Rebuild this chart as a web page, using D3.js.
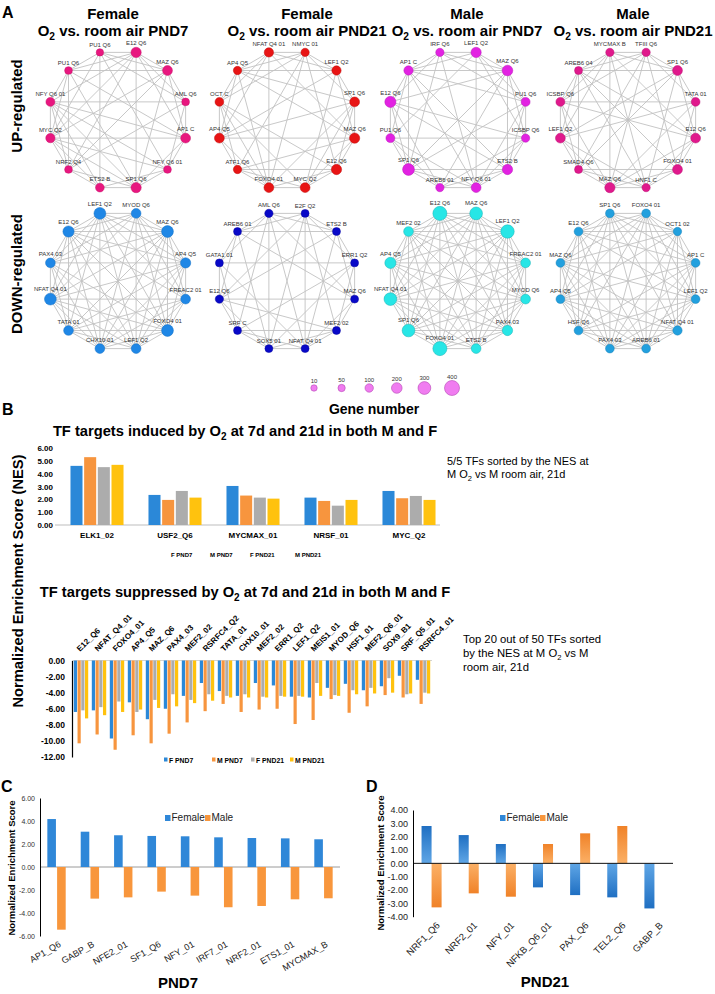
<!DOCTYPE html>
<html><head><meta charset="utf-8">
<script src="https://cdn.jsdelivr.net/npm/d3@7/dist/d3.min.js"></script>
<style>
html,body{margin:0;padding:0;background:#fff;}
svg{display:block;}
</style></head>
<body>
<svg id="fig" width="715" height="994"></svg>
<script>
// ================= DATA =================
// ---- Panel A : networks ----
const colSex = ["Female","Female","Male","Male"];
const colDay = ["PND7","PND21","PND7","PND21"];
const rowNames = ["UP-regulated","DOWN-regulated"];

const upF7Labels = ["PU1 Q6","E12 Q6","MAZ Q6","AML Q6","AP1 C","NFY Q6 01","SP1 Q6","ETS2 B","NRF2 Q4","MYC Q2","NFY Q6 01","PU1 Q6"];
const upF7Genes = [55,185,165,70,165,70,185,115,70,140,125,70];
const upF7Missing = ["0-4","0-6","0-8","0-10","1-5","1-7","2-5","2-7","2-10","3-6","3-7","3-9","3-11","4-7","4-8","5-8","5-11","7-11"];

const upF21Labels = ["NFAT Q4 01","NMYC 01","LEF1 Q2","SP1 Q6","MAZ Q6","E12 Q6","MYC Q2","FOXO4 01","ATF1 Q6","AP4 Q5","OCT C","AP4 Q5"];
const upF21Genes = [140,95,140,165,185,185,165,165,95,165,115,95];
const upF21Missing = ["0-3","0-5","0-6","0-8","1-4","1-6","1-9","2-5","2-7","2-8","2-10","3-8","3-10","4-7","4-10","5-9","5-11","6-9","6-11","8-11"];

const upM7Labels = ["IRF Q6","LEF1 Q2","MAZ Q6","PU1 Q6","ICSBP Q6","ETS2 B","NFY Q6 01","AREB6 01","SP1 Q6","PU1 Q6","E12 Q6","AP1 C"];
const upM7Genes = [95,185,200,125,95,185,165,95,255,125,225,140];
const upM7Missing = ["0-4","0-5","0-7","0-9","1-5","1-7","1-8","1-10","2-6","2-9","3-7","3-9","3-10","4-8","4-11","5-9","6-10","7-11"];

const upM21Labels = ["MYCMAX B","TFIII Q6","SP1 Q6","TATA 01","E12 Q6","FOXO4 01","HNF1 C","MAZ Q6","SMAD4 Q6","LEF1 Q2","ICSBP Q6","AREB6 04"];
const upM21Genes = [95,95,165,115,165,165,95,185,80,165,125,80];
const upM21Missing = ["0-3","0-5","0-8","1-4","1-6","1-9","2-5","2-7","2-10","3-6","3-8","3-11","4-8","4-9","5-9","5-10","6-10","7-11"];

const dnF7Labels = ["LEF1 Q2","MYOD Q6","MAZ Q6","AP4 Q5","FREAC2 01","FOXO4 01","LEF1 Q2","CHX10 01","TATA 01","NFAT Q4 01","PAX4 03","E12 Q6"];
const dnF7Genes = [255,160,255,185,160,255,160,160,160,255,160,225];
const dnF7Missing = ["1-8","4-10"];

const dnF21Labels = ["AML Q6","E2F Q2","ETS2 B","ERR1 Q2","MAZ Q6","MEF2 02","NFAT Q4 01","SOX5 01","SRF C","E12 Q6","GATA1 01","AREB6 01"];
const dnF21Genes = [95,80,80,80,80,80,80,80,80,95,80,80];
const dnF21Missing = ["0-3","0-5","0-9","1-4","1-8","1-10","2-5","2-7","2-8","2-10","3-6","3-9","3-11","4-7","4-8","4-10","5-10","5-11","6-9","6-11","7-10","8-11"];

const dnM7Labels = ["E12 Q6","MAZ Q6","LEF1 Q2","FREAC2 01","MYOD Q6","PAX4 03","ETS2 B","FOXO4 01","SP1 Q6","NFAT Q4 01","AP4 Q5","MEF2 02"];
const dnM7Genes = [357,296,330,160,160,185,160,357,296,296,225,160];
const dnM7Missing = [];

const dnM21Labels = ["SP1 Q6","FOXO4 01","OCT1 02","AP1 C","LEF1 Q2","NFAT Q4 01","AREB6 01","PAX4 03","HSF Q6","AP4 Q5","MAZ Q6","E12 Q6"];
const dnM21Genes = [115,115,95,115,115,140,115,115,115,115,115,115];
const dnM21Missing = ["2-8","5-11"];

const geneLegend = [10,50,100,200,300,400];

// ---- Panel B ----
const seriesNames = ["F PND7","M PND7","F PND21","M PND21"];
const indCategories = ["ELK1_02","USF2_Q6","MYCMAX_01","NRSF_01","MYC_Q2"];
const indFPND7  = [4.62,2.35,3.05,2.14,2.66];
const indMPND7  = [5.30,1.96,2.30,1.88,2.09];
const indFPND21 = [4.52,2.66,2.14,1.51,2.27];
const indMPND21 = [4.70,2.14,2.06,1.96,1.96];
const indTicks = [0,1,2,3,4,5,6];

const supCategories = ["E12_Q6","NFAT_Q4_01","FOXO4_01","AP4_Q5","MAZ_Q6","PAX4_03","MEF2_02","RSRFC4_Q2","TATA_01","CHX10_01","MEF2_02","ERR1_Q2","LEF1_Q2","MEIS1_01","MYOD_Q6","HSF1_01","MEF2_Q6_01","SOX9_B1","SRF_Q5_01","RSRFC4_01"];
const supFPND7  = [-6.4,-6.2,-9.7,-5.2,-7.3,-6.0,-4.4,-2.8,-3.8,-4.4,-2.8,-3.1,-4.5,-4.6,-3.4,-2.9,-3.7,-3.2,-1.9,-2.4];
const supMPND7  = [-10.3,-9.2,-11.1,-9.3,-10.3,-9.1,-7.7,-6.3,-5.4,-6.4,-6.1,-6.0,-7.9,-7.4,-4.8,-6.5,-5.7,-4.3,-4.6,-5.4];
const supFPND21 = [-6.2,-5.8,-5.1,-6.4,-4.9,-4.2,-4.9,-4.2,-4.4,-4.2,-4.5,-4.4,-4.4,-2.8,-4.3,-3.7,-3.4,-2.2,-4.2,-4.0];
const supMPND21 = [-7.2,-6.8,-6.4,-6.1,-5.9,-5.7,-5.3,-5.0,-4.6,-4.6,-4.6,-4.5,-4.5,-4.4,-4.4,-4.2,-4.1,-4.0,-4.1,-4.1];
const supTicks = [0,-2,-4,-6,-8,-10,-12];

// ---- Panel C ----
const sexNames = ["Female","Male"];
const cCategories = ["AP1_Q6","GABP_B","NFE2_01","SF1_Q6","NFY_01","IRF7_01","NRF2_01","ETS1_01","MYCMAX_B"];
const cFemale = [4.17,3.07,2.76,2.70,2.67,2.58,2.52,2.49,2.41];
const cMale   = [-5.45,-2.75,-2.64,-2.14,-2.49,-3.50,-3.39,-2.81,-2.72];
const cTicks = [6,4,2,0,-2,-4,-6];

// ---- Panel D ----
const dCategories = ["NRF1_Q6","NRF2_01","NFY_01","NFKB_Q6_01","PAX_Q6","TEL2_Q6","GABP_B"];
const dFemale = [2.80,2.12,1.45,-1.80,-2.38,-2.55,-3.38];
const dMale   = [-3.30,-2.25,-2.50,1.45,2.25,2.80,0];
const dTicks = [4,3,2,1,0,-1,-2,-3,-4];

// ================= DRAWING =================
const FONT = "'Liberation Sans', Arial, Helvetica, sans-serif";
const svg = d3.select("#fig").attr("font-family", FONT);
svg.append("rect").attr("width",715).attr("height",994).attr("fill","#fff");

function o2Text(parent, x, y, pre, post, fs, weight, anchor) {
  const t = parent.append("text").attr("x",x).attr("y",y).attr("font-size",fs)
    .attr("font-weight",weight).attr("text-anchor",anchor||"start").attr("fill","#000");
  t.append("tspan").text(pre + "O");
  t.append("tspan").attr("dy",fs*0.28).attr("font-size",fs*0.68).text("2");
  t.append("tspan").attr("dy",-fs*0.28).text(post);
  return t;
}
function label(parent, x, y, txt, fs, weight, anchor, fill) {
  return parent.append("text").attr("x",x).attr("y",y).attr("font-size",fs)
    .attr("font-weight",weight||"normal").attr("text-anchor",anchor||"start")
    .attr("fill",fill||"#000").text(txt);
}

// ---------- Panel A ----------
const gA = svg.append("g");
label(gA, 2, 18, "A", 16, "bold");
const titleX = [113, 307, 467, 633];
colSex.forEach((s,i)=>{
  label(gA, titleX[i], 18.5, s, 15, "bold", "middle");
  o2Text(gA, titleX[i], 35.5, "", " vs. room air " + colDay[i], 15, "bold", "middle");
});
const rowLabelY = [106, 274];
rowNames.forEach((r,i)=>{
  gA.append("text").attr("transform",`translate(21.5,${rowLabelY[i]}) rotate(-90)`)
    .attr("text-anchor","middle").attr("font-size",15).attr("font-weight","bold").text(r);
});

const networks = [
  {col:0,row:0,labels:upF7Labels,genes:upF7Genes,missing:upF7Missing,fill:"#e8177f",stroke:"#c9106b"},
  {col:1,row:0,labels:upF21Labels,genes:upF21Genes,missing:upF21Missing,fill:"#e81414",stroke:"#c00c0c"},
  {col:2,row:0,labels:upM7Labels,genes:upM7Genes,missing:upM7Missing,fill:"#e222e2",stroke:"#b818b8"},
  {col:3,row:0,labels:upM21Labels,genes:upM21Genes,missing:upM21Missing,fill:"#e0198c",stroke:"#bb1074"},
  {col:0,row:1,labels:dnF7Labels,genes:dnF7Genes,missing:dnF7Missing,fill:"#1f87e6",stroke:"#1470c4"},
  {col:1,row:1,labels:dnF21Labels,genes:dnF21Genes,missing:dnF21Missing,fill:"#0808c8",stroke:"#0505a0"},
  {col:2,row:1,labels:dnM7Labels,genes:dnM7Genes,missing:dnM7Missing,fill:"#27e6e6",stroke:"#16b0b4"},
  {col:3,row:1,labels:dnM21Labels,genes:dnM21Genes,missing:dnM21Missing,fill:"#22a0de",stroke:"#1781b8"}
];
const colCx = d3.scaleOrdinal().domain([0,1,2,3]).range([118,287,458,628]);
const rowCy = d3.scaleOrdinal().domain([0,1]).range([120,281]);
const angle = d3.scaleLinear().domain([0,12]).range([-105*Math.PI/180, 255*Math.PI/180]);
const rNode = d3.scaleLinear().domain([10,400]).range([3.2,7.5]);
const ringR = 70;

networks.forEach(net=>{
  const cx = colCx(net.col), cy = rowCy(net.row);
  const nodes = net.labels.map((lab,i)=>({lab, gene:net.genes[i],
    x: cx + ringR*Math.cos(angle(i)), y: cy + ringR*Math.sin(angle(i))}));
  const miss = new Set(net.missing);
  const edges = [];
  for (let i=0;i<nodes.length;i++) for (let j=i+1;j<nodes.length;j++)
    if (!miss.has(i+"-"+j)) edges.push([nodes[i],nodes[j]]);
  const g = gA.append("g");
  g.selectAll("line").data(edges).join("line")
    .attr("x1",d=>d[0].x).attr("y1",d=>d[0].y).attr("x2",d=>d[1].x).attr("y2",d=>d[1].y)
    .attr("stroke","#c2c2c2").attr("stroke-width",0.9);
  g.selectAll("circle").data(nodes).join("circle")
    .attr("cx",d=>d.x).attr("cy",d=>d.y).attr("r",d=>rNode(d.gene))
    .attr("fill",net.fill).attr("stroke",net.stroke).attr("stroke-width",0.5);
  g.selectAll("text").data(nodes).join("text")
    .attr("x",d=>d.x).attr("y",d=>d.y - rNode(d.gene) - 1.8)
    .attr("text-anchor","middle").attr("font-size",6).attr("fill","#333").text(d=>d.lab);
});

// size legend
const legX = d3.scalePoint().domain(geneLegend).range([314,452]);
const legY = 388;
const gLeg = gA.append("g");
gLeg.selectAll("circle").data(geneLegend).join("circle")
  .attr("cx",d=>legX(d)).attr("cy",legY).attr("r",d=>rNode(d))
  .attr("fill","#f07cf0").attr("stroke","#b54ab5").attr("stroke-width",0.6);
gLeg.selectAll("text").data(geneLegend).join("text")
  .attr("x",d=>legX(d)).attr("y",d=>legY - rNode(d) - 2)
  .attr("text-anchor","middle").attr("font-size",6).attr("fill","#333").text(d=>d);
label(gA, 374, 414, "Gene number", 14, "bold", "middle");

// ---------- Panel B ----------
const seriesColors = ["#2b88d8","#f7953e","#acacac","#ffc20e"];
const gB = svg.append("g");
label(gB, 2, 415, "B", 16, "bold");
gB.append("text").attr("transform","translate(23,581) rotate(-90)").attr("text-anchor","middle")
  .attr("font-size",14.7).attr("font-weight","bold").text("Normalized Enrichment Score (NES)");

// induced chart
o2Text(gB, 245, 436, "TF targets induced by ", " at 7d and 21d in both M and F", 14.7, "bold", "middle");
const indSeries = [indFPND7, indMPND7, indFPND21, indMPND21];
const yTop = d3.scaleLinear().domain([0,6]).range([525,448.2]);
const xTop = d3.scaleBand().domain(indCategories).range([58,448]).paddingInner(0.32).paddingOuter(0.16);
const xTopSub = d3.scaleBand().domain(seriesNames).range([0,xTop.bandwidth()]).paddingInner(0.12);
gB.append("line").attr("x1",55).attr("x2",440).attr("y1",yTop(0)).attr("y2",yTop(0))
  .attr("stroke","#bdbdbd").attr("stroke-width",1);
const axTop = gB.append("g").attr("transform","translate(55,0)")
  .call(d3.axisLeft(yTop).tickValues(indTicks).tickFormat(d=>d.toFixed(2)).tickSize(0).tickPadding(2));
axTop.select(".domain").remove();
axTop.attr("font-family",FONT).attr("font-size",8).attr("font-weight","bold");
const indRows = indCategories.map((c,i)=>({c, vals: indSeries.map((s,k)=>({k, v:s[i]}))}));
const gIndBars = gB.append("g");
gIndBars.selectAll("g").data(indRows).join("g")
  .attr("transform",d=>`translate(${xTop(d.c)},0)`)
  .selectAll("rect").data(d=>d.vals).join("rect")
  .attr("x",d=>xTopSub(seriesNames[d.k])).attr("width",xTopSub.bandwidth())
  .attr("y",d=>yTop(d.v)).attr("height",d=>yTop(0)-yTop(d.v))
  .attr("fill",d=>seriesColors[d.k]);
gB.selectAll(".indcat").data(indCategories).join("text").attr("class","indcat")
  .attr("x",d=>xTop(d)+xTop.bandwidth()/2).attr("y",538).attr("text-anchor","middle")
  .attr("font-size",8).attr("font-weight","bold").text(d=>d);
const topLegX = [171,210,250,295];
seriesNames.forEach((s,i)=> label(gB, topLegX[i], 557, s, 6, "bold"));
label(gB, 447, 465, "5/5 TFs sorted by the NES at", 11, "normal");
o2Text(gB, 447, 478, "M ", " vs M room air, 21d", 11, "normal", "start");

// suppressed chart
o2Text(gB, 245, 597, "TF targets suppressed by ", " at 7d and 21d in both M and F", 14.7, "bold", "middle");
const supSeries = [supFPND7, supMPND7, supFPND21, supMPND21];
const ySup = d3.scaleLinear().domain([-12,0]).range([757,660.5]);
const xSup = d3.scaleBand().domain(d3.range(supCategories.length)).range([72,432]).paddingInner(0.2).paddingOuter(0.1);
const xSupSub = d3.scaleBand().domain(seriesNames).range([0,xSup.bandwidth()]).paddingInner(0.15);
gB.append("line").attr("x1",72).attr("x2",432).attr("y1",ySup(0)).attr("y2",ySup(0))
  .attr("stroke","#d4d4d4").attr("stroke-width",1.2);
const supRows = supCategories.map((c,i)=>({i, vals: supSeries.map((s,k)=>({k, v:s[i]}))}));
gB.append("g").selectAll("g").data(supRows).join("g")
  .attr("transform",d=>`translate(${xSup(d.i)},0)`)
  .selectAll("rect").data(d=>d.vals).join("rect")
  .attr("x",d=>xSupSub(seriesNames[d.k])).attr("width",xSupSub.bandwidth())
  .attr("y",ySup(0)).attr("height",d=>ySup(d.v)-ySup(0))
  .attr("fill",d=>seriesColors[d.k]);
const axSup = gB.append("g").attr("transform","translate(72,0)")
  .call(d3.axisLeft(ySup).tickValues(supTicks).tickFormat(d=>d.toFixed(2)).tickSize(0).tickSizeOuter(0).tickPadding(7));
axSup.select(".domain").attr("stroke","#000").attr("stroke-width",1.2);
axSup.attr("font-family",FONT).attr("font-size",8.5).attr("font-weight","bold");
gB.selectAll(".supcat").data(supCategories.map((c,i)=>({c,i}))).join("text").attr("class","supcat")
  .attr("transform",d=>`translate(${xSup(d.i)+xSup.bandwidth()/2-1},652) rotate(-45)`)
  .attr("font-size",8).attr("font-weight","bold").text(d=>d.c);
const supLegX = [164,212,251,290];
seriesNames.forEach((s,i)=>{
  gB.append("rect").attr("x",supLegX[i]).attr("y",757.5).attr("width",3.5).attr("height",4).attr("fill",seriesColors[i]);
  label(gB, supLegX[i]+5, 762.5, s, 6.8, "bold");
});
label(gB, 463, 643, "Top 20 out of 50 TFs sorted", 11.3, "normal");
o2Text(gB, 463, 656.5, "by the NES at M ", " vs M", 11.3, "normal", "start");
label(gB, 463, 670.5, "room air, 21d", 11.3, "normal");

// ---------- Panel C ----------
const gC = svg.append("g");
label(gC, 1, 792, "C", 16, "bold");
const yC = d3.scaleLinear().domain([-6,6]).range([936,798]);
const xC = d3.scaleBand().domain(cCategories).range([40,340]).paddingInner(0.45).paddingOuter(0.22);
const xCsub = d3.scaleBand().domain(sexNames).range([0,xC.bandwidth()]).paddingInner(0.12);
const sexColors = ["#2f87d8","#f8963c"];
gC.append("line").attr("x1",40).attr("x2",340).attr("y1",yC(0)).attr("y2",yC(0)).attr("stroke","#9a9a9a").attr("stroke-width",1);
const cRows = cCategories.map((c,i)=>({c, vals:[{k:0,v:cFemale[i]},{k:1,v:cMale[i]}]}));
gC.append("g").selectAll("g").data(cRows).join("g")
  .attr("transform",d=>`translate(${xC(d.c)},0)`)
  .selectAll("rect").data(d=>d.vals).join("rect")
  .attr("x",d=>xCsub(sexNames[d.k])).attr("width",xCsub.bandwidth())
  .attr("y",d=>yC(Math.max(0,d.v))).attr("height",d=>Math.abs(yC(d.v)-yC(0)))
  .attr("fill",d=>sexColors[d.k]);
const axC = gC.append("g").attr("transform","translate(40,0)")
  .call(d3.axisLeft(yC).tickValues(cTicks).tickFormat(d=>d.toFixed(2)).tickSize(0).tickSizeOuter(0).tickPadding(5));
axC.select(".domain").attr("stroke","#000").attr("stroke-width",1);
axC.attr("font-family",FONT).attr("font-size",7);
axC.selectAll("text").attr("fill","#333");
gC.selectAll(".ccat").data(cCategories).join("text").attr("class","ccat")
  .attr("transform",d=>`translate(${xC(d)+xC.bandwidth()/2+5},946) rotate(-30)`)
  .attr("text-anchor","end").attr("font-size",9).attr("fill","#222").text(d=>d);
gC.append("text").attr("transform","translate(15,868) rotate(-90)").attr("text-anchor","middle")
  .attr("font-size",9.5).attr("font-weight","bold").text("Normalized Enrichment Score");
label(gC, 178, 988, "PND7", 15, "bold", "middle");
const cLegX = [165,205];
sexNames.forEach((s,i)=>{
  gC.append("rect").attr("x",cLegX[i]).attr("y",815).attr("width",5.5).attr("height",6).attr("fill",sexColors[i]);
  label(gC, cLegX[i]+6.5, 821, s, 10, "normal", "start", "#222");
});

// ---------- Panel D ----------
const gD = svg.append("g");
label(gD, 366, 792, "D", 16, "bold");
const defs = svg.append("defs");
function grad(id, c1, c2){
  const lg = defs.append("linearGradient").attr("id",id).attr("x1",0).attr("y1",0).attr("x2",0).attr("y2",1);
  lg.append("stop").attr("offset","0%").attr("stop-color",c1);
  lg.append("stop").attr("offset","100%").attr("stop-color",c2);
}
grad("bluePos","#1f6fc2","#5fa6e6");
grad("blueNeg","#5fa6e6","#1f6fc2");
grad("orPos","#f08228","#fbb066");
grad("orNeg","#fbb066","#f08228");
const yD = d3.scaleLinear().domain([-4,4]).range([916.7,810]);
const xD = d3.scaleBand().domain(dCategories).range([413,673]).paddingInner(0.46).paddingOuter(0.23);
const xDsub = d3.scaleBand().domain(sexNames).range([0,xD.bandwidth()]);
const dRows = dCategories.map((c,i)=>({c, vals:[{k:0,v:dFemale[i]},{k:1,v:dMale[i]}]}));
gD.append("g").selectAll("g").data(dRows).join("g")
  .attr("transform",d=>`translate(${xD(d.c)},0)`)
  .selectAll("rect").data(d=>d.vals).join("rect")
  .attr("x",d=>xDsub(sexNames[d.k])).attr("width",xDsub.bandwidth())
  .attr("y",d=>yD(Math.max(0,d.v))).attr("height",d=>Math.abs(yD(d.v)-yD(0)))
  .attr("fill",d=>`url(#${d.k===0?"blue":"or"}${d.v>=0?"Pos":"Neg"})`);
gD.append("line").attr("x1",413).attr("x2",673).attr("y1",yD(0)).attr("y2",yD(0)).attr("stroke","#111").attr("stroke-width",1);
const axD = gD.append("g").attr("transform","translate(413,0)")
  .call(d3.axisLeft(yD).tickValues(dTicks).tickFormat(d=>d.toFixed(2)).tickSize(0).tickSizeOuter(0).tickPadding(5));
axD.select(".domain").attr("stroke","#000").attr("stroke-width",1);
axD.attr("font-family",FONT).attr("font-size",9);
axD.selectAll("text").attr("fill","#222");
gD.selectAll(".dcat").data(dCategories).join("text").attr("class","dcat")
  .attr("transform",d=>`translate(${xD(d)+xD.bandwidth()/2+9},926) rotate(-45)`)
  .attr("text-anchor","end").attr("font-size",9.5).attr("fill","#222").text(d=>d);
gD.append("text").attr("transform","translate(384,863) rotate(-90)").attr("text-anchor","middle")
  .attr("font-size",9.5).attr("font-weight","bold").text("Normalized Enrichment Score");
label(gD, 545, 987, "PND21", 15, "bold", "middle");
const dLegX = [500,540];
sexNames.forEach((s,i)=>{
  gD.append("rect").attr("x",dLegX[i]).attr("y",815).attr("width",5.5).attr("height",6).attr("fill",sexColors[i]);
  label(gD, dLegX[i]+6.5, 821, s, 10, "normal", "start", "#222");
});
</script>
</body></html>
